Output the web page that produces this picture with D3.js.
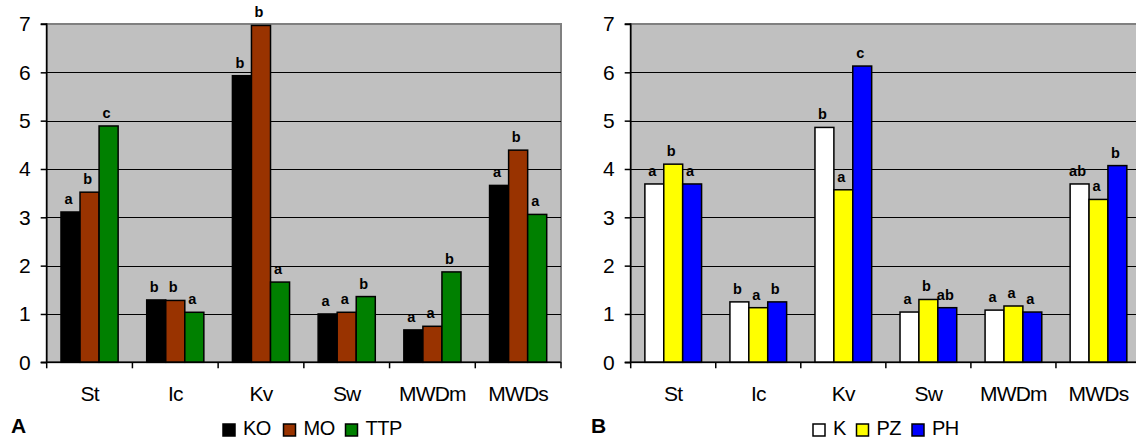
<!DOCTYPE html>
<html><head><meta charset="utf-8">
<script src="https://cdn.jsdelivr.net/npm/d3@7"></script>
<style>
html,body{margin:0;padding:0;background:#fff;}
svg{display:block;font-family:"Liberation Sans",Arial,sans-serif;}
</style></head>
<body>
<svg id="chart" width="1136" height="439"></svg>
<script>
const categories = ["St","Ic","Kv","Sw","MWDm","MWDs"];
const yTicks = [0,1,2,3,4,5,6,7];

// Panel A
const seriesA = ["KO","MO","TTP"];
const colorsA = ["#000000","#993300","#008000"];
const valuesKO  = [3.11,1.29,5.93,1.00,0.67,3.66];
const valuesMO  = [3.52,1.28,6.97,1.035,0.745,4.39];
const valuesTTP = [4.89,1.035,1.66,1.36,1.87,3.06];
const lettersKO  = ["a","b","b","a","a","a"];
const lettersMO  = ["b","b","b","a","a","b"];
const lettersTTP = ["c","a","a","b","b","a"];

// Panel B
const seriesB = ["K","PZ","PH"];
const colorsB = ["#ffffff","#ffff00","#0000ff"];
const valuesK  = [3.69,1.25,4.86,1.04,1.08,3.69];
const valuesPZ = [4.10,1.13,3.57,1.30,1.165,3.37];
const valuesPH = [3.69,1.25,6.13,1.13,1.04,4.07];
const lettersK  = ["a","b","b","a","a","ab"];
const lettersPZ = ["b","a","a","b","a","a"];
const lettersPH = ["a","b","c","ab","a","b"];

const svg = d3.select("#chart");

function panel(cfg){
  const g = svg.append("g");
  const x = d3.scaleBand().domain(categories).range([cfg.left, cfg.right]).padding(0);
  const xs = d3.scaleBand().domain(cfg.series).range([0, x.bandwidth()]).paddingInner(0).paddingOuter(0.75);
  const y = d3.scaleLinear().domain([0,7]).range([362.3, 24]);

  g.append("rect").attr("x", cfg.left).attr("y", y(7)).attr("width", cfg.right-cfg.left).attr("height", y(0)-y(7))
    .attr("fill","#c0c0c0").attr("stroke","#808080").attr("stroke-width",2);
  g.selectAll(".grid").data(yTicks.filter(t=>t>0 && t<7)).join("line")
    .attr("x1", cfg.left).attr("x2", cfg.right).attr("y1", d=>Math.round(y(d))+0.5).attr("y2", d=>Math.round(y(d))+0.5)
    .attr("stroke","#000").attr("stroke-width",1);

  cfg.series.forEach((s,i)=>{
    const vals = cfg.values[i];
    g.selectAll(null).data(categories).join("rect")
      .attr("x", (c)=>x(c)+xs(s))
      .attr("y", (c,j)=>y(vals[j]))
      .attr("width", xs.bandwidth())
      .attr("height", (c,j)=>y(0)-y(vals[j]))
      .attr("fill", cfg.colors[i]).attr("stroke","#000").attr("stroke-width",1.5);
    g.selectAll(null).data(categories).join("text")
      .attr("x", (c)=>x(c)+xs(s)+xs.bandwidth()/2-2)
      .attr("y", (c,j)=>y(vals[j])-8)
      .attr("text-anchor","middle").attr("font-size",14.5).attr("font-weight","bold").attr("fill","#000")
      .text((c,j)=>cfg.letters[i][j]);
  });

  const ya = d3.axisLeft(y).tickValues(yTicks).tickSize(6).tickPadding(10).tickFormat(d3.format("d"));
  const yg = g.append("g").attr("transform",`translate(${cfg.left},0)`).call(ya);
  yg.select(".domain").attr("stroke","#000").attr("stroke-width",1.5).attr("d",`M-6,${y(7)}H0V${y(0)}`);
  yg.selectAll(".tick line").attr("stroke","#000").attr("stroke-width",1.5);
  yg.selectAll("text").attr("font-size",21).attr("fill","#000").attr("font-family","Liberation Sans, Arial, sans-serif");

  g.append("line").attr("x1",cfg.left-6).attr("x2",cfg.right).attr("y1",y(0)).attr("y2",y(0)).attr("stroke","#000").attr("stroke-width",1.5);
  const bounds = categories.map(c=>x(c)).concat([cfg.right]);
  g.selectAll(null).data(bounds).join("line")
    .attr("x1",d=>d).attr("x2",d=>d).attr("y1",y(0)).attr("y2",y(0)+6).attr("stroke","#000").attr("stroke-width",1.5);
  g.selectAll(null).data(categories).join("text")
    .attr("x", c=>x(c)+x.bandwidth()/2).attr("y", 401)
    .attr("text-anchor","middle").attr("font-size",21).attr("letter-spacing","-0.8").attr("fill","#000").text(c=>c);

  g.append("text").attr("x",cfg.panelX).attr("y",433).attr("font-size",21).attr("font-weight","bold").text(cfg.panelLabel);

  cfg.series.forEach((s,i)=>{
    g.append("rect").attr("x",cfg.legendX[i]).attr("y",424).attr("width",12).attr("height",12)
      .attr("fill",cfg.colors[i]).attr("stroke","#000").attr("stroke-width",1.5);
    g.append("text").attr("x",cfg.legendX[i]+20).attr("y",434.5).attr("font-size",20).attr("letter-spacing","-0.5").attr("fill","#000").text(s);
  });
}

panel({left:46.7, right:561, series:seriesA, colors:colorsA,
  values:[valuesKO,valuesMO,valuesTTP], letters:[lettersKO,lettersMO,lettersTTP],
  panelLabel:"A", panelX:11, legendX:[223,283.5,345.5]});
panel({left:630.7, right:1141, series:seriesB, colors:colorsB,
  values:[valuesK,valuesPZ,valuesPH], letters:[lettersK,lettersPZ,lettersPH],
  panelLabel:"B", panelX:591, legendX:[813,856.5,912]});
</script>
</body></html>
